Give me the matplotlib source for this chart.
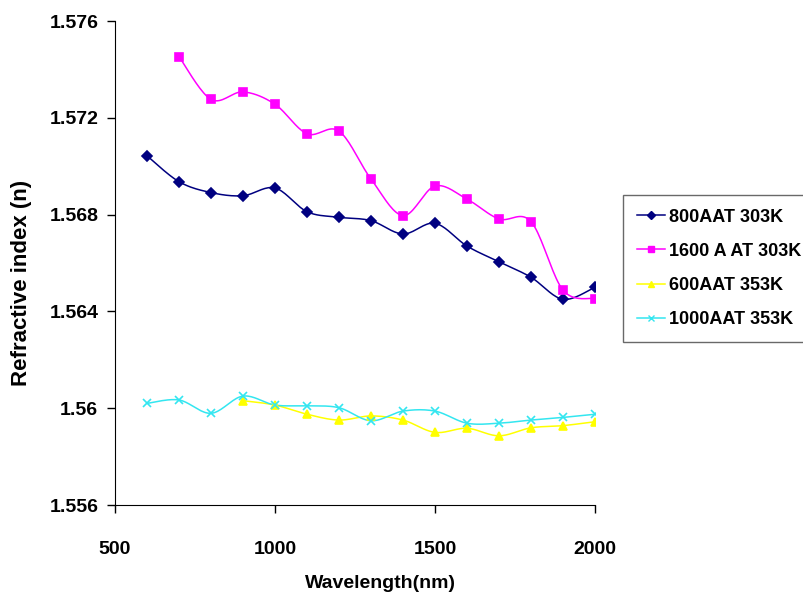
import numpy as np
import matplotlib
matplotlib.use("Agg")
import matplotlib.pyplot as plt
from matplotlib.ticker import FixedLocator, FuncFormatter

plt.rcParams['font.family'] = ['Liberation Sans', 'DejaVu Sans']
plt.rcParams['font.weight'] = 'bold'

wl_all = [600, 700, 800, 900, 1000, 1100, 1200, 1300, 1400, 1500, 1600, 1700, 1800, 1900, 2000]

n_800_303 = [1.57043, 1.56936, 1.56891, 1.56878, 1.56910, 1.56812, 1.56789, 1.56775,
             1.56720, 1.56764, 1.56670, 1.56605, 1.56541, 1.56450, 1.56500]
wl_1600 = wl_all[1:]
n_1600_303 = [1.57453, 1.57276, 1.57307, 1.57256, 1.57134, 1.57145, 1.56947, 1.56796,
              1.56918, 1.56864, 1.56782, 1.56771, 1.56488, 1.56453]
wl_600 = wl_all[3:]
n_600_353 = [1.56031, 1.56013, 1.55975, 1.55951, 1.55968, 1.55951, 1.55900, 1.55917,
             1.55886, 1.55919, 1.55928, 1.55944]
n_1000_353 = [1.56020, 1.56034, 1.55979, 1.56050, 1.56013, 1.56010, 1.56002, 1.55948,
              1.55988, 1.55988, 1.55938, 1.55938, 1.55951, 1.55962, 1.55975]

labels = ["800AAT 303K", "1600 A AT 303K", "600AAT 353K", "1000AAT 353K"]
y_ticks = [1.556, 1.56, 1.564, 1.568, 1.572, 1.576]
x_ticks = [500, 1000, 1500, 2000]


def smooth(x, y, n=20):
    x = np.asarray(x, float)
    y = np.asarray(y, float)
    px = np.concatenate([[x[0]], x, [x[-1]]])
    py = np.concatenate([[y[0]], y, [y[-1]]])
    xs, ys = [], []
    t = np.linspace(0, 1, n)
    for i in range(1, len(px) - 2):
        p0 = np.array([px[i], py[i]])
        p3 = np.array([px[i + 1], py[i + 1]])
        p1 = p0 + (np.array([px[i + 1], py[i + 1]]) - np.array([px[i - 1], py[i - 1]])) / 6
        p2 = p3 - (np.array([px[i + 2], py[i + 2]]) - np.array([px[i], py[i]])) / 6
        b = ((1 - t) ** 3)[:, None] * p0 + (3 * (1 - t) ** 2 * t)[:, None] * p1 \
            + (3 * (1 - t) * t ** 2)[:, None] * p2 + (t ** 3)[:, None] * p3
        xs.extend(b[:, 0])
        ys.extend(b[:, 1])
    return xs, ys


fig = plt.figure(figsize=(8.04, 6.01), dpi=100)
ax = fig.add_axes([115 / 804, 96 / 601, 480 / 804, 484 / 601])

series = [
    (wl_all, n_800_303, '#000080', 'D', 5, labels[0]),
    (wl_1600, n_1600_303, '#FF00FF', 's', 5.5, labels[1]),
    (wl_600, n_600_353, '#FFFF00', '^', 5.5, labels[2]),
    (wl_all, n_1000_353, '#33E6F0', 'x', 6, labels[3]),
]
handles = []
for x, y, c, m, ms, lab in series:
    sx, sy = smooth(x, y)
    ax.plot(sx, sy, color=c, lw=1.1, zorder=2)
    ax.plot(x, y, ls='none', marker=m, color=c, ms=ms, mew=1.2, zorder=3)
    h, = ax.plot([], [], color=c, lw=1.1, marker=m, ms=ms * 0.8, mew=1.0, label=lab)
    handles.append(h)

ax.set_xlim(500, 2000)
ax.set_ylim(1.556, 1.576)
ax.xaxis.set_major_locator(FixedLocator(x_ticks))
ax.yaxis.set_major_locator(FixedLocator(y_ticks))
ax.yaxis.set_major_formatter(FuncFormatter(lambda v, p: f"{v:g}"))
ax.spines['top'].set_visible(False)
ax.spines['right'].set_visible(False)
ax.tick_params(direction='out', length=6, width=1, labelsize=14, pad=6)
ax.tick_params(axis='x', pad=20)
for lab in ax.get_xticklabels() + ax.get_yticklabels():
    lab.set_fontweight('bold')
fig.text(380 / 804, 1 - 583 / 601, "Wavelength(nm)", fontsize=14, fontweight='bold',
         ha='center', va='center')
fig.text(22 / 804, 1 - 283 / 601, "Refractive index (n)", rotation=90, fontsize=16,
         fontweight='bold', ha='center', va='center')

leg = fig.legend(handles=handles, loc='upper left', bbox_to_anchor=(623 / 804, 1 - 195 / 601),
                 fontsize=13, frameon=True, fancybox=False, edgecolor='#444444',
                 handlelength=1.6, handletextpad=0.2, labelspacing=0.95, borderpad=0.75,
                 borderaxespad=0)
leg.get_frame().set_linewidth(1.0)
for t in leg.get_texts():
    t.set_fontweight('bold')

fig.savefig("out.png", dpi=100)
